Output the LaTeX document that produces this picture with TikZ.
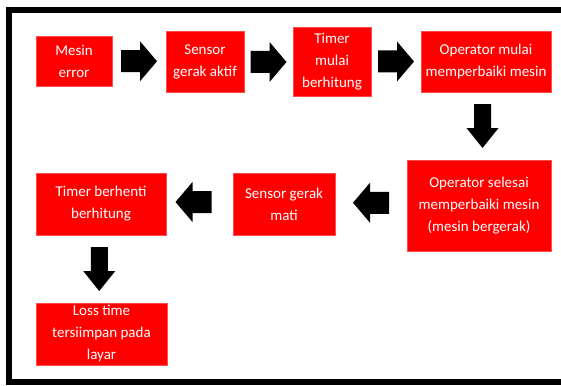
\documentclass[tikz,border=0pt]{standalone}
\usepackage{fontspec}
\setmainfont{Carlito}
\usetikzlibrary{calc}
\tikzset{
  stepbox/.style={fill=red, draw=red!70!white, line width=0.6pt, text=white, align=center,
    inner sep=0pt, font=\fontsize{15}{22}\selectfont},
}
% horizontal block arrow pointing right, centred at #1, rotated by #2
\newcommand\hblock[2]{%
  \fill[black, shift={#1}, rotate=#2] (-18,-11) -- (1,-11) -- (1,-20) -- (18,0) -- (1,20) -- (1,11) -- (-18,11) -- cycle;}
% vertical block arrow pointing down (y axis points down), centred at #1
\newcommand\vblock[1]{%
  \fill[black, shift={#1}] (-8.5,-22) -- (8.5,-22) -- (8.5,2) -- (16,2) -- (0,22) -- (-16,2) -- (-8.5,2) -- cycle;}
\begin{document}
\begin{tikzpicture}[x=1pt,y=-1pt]
\useasboundingbox (0,0) rectangle (561,385);
% frame
\draw[line width=6pt] (575,10) -- (8.5,10) -- (8.5,382) -- (575,382);
% boxes
\node[stepbox, minimum width=76pt, minimum height=50pt] (me) at (74,61) {Mesin\\error};
\node[stepbox, minimum width=78pt, minimum height=61pt] (sa) at (205,61.5) {Sensor\\gerak aktif};
\node[stepbox, minimum width=78pt, minimum height=69pt] (tm) at (332,61.5) {Timer\\mulai\\berhitung};
\node[stepbox, minimum width=130pt, minimum height=61pt] (om) at (486,61.5) {Operator mulai\\memperbaiki mesin};
\node[stepbox, minimum width=144pt, minimum height=91pt] (os) at (479,205.5) {Operator selesai\\memperbaiki mesin\\(mesin bergerak)};
\node[stepbox, minimum width=102pt, minimum height=62pt] (sm) at (284,204) {Sensor gerak\\mati};
\node[stepbox, minimum width=130pt, minimum height=62pt] (tb) at (101,204) {Timer berhenti\\berhitung};
\node[stepbox, minimum width=131pt, minimum height=62pt] (lt) at (101.5,334) {Loss time\\tersiimpan pada\\layar};
% block arrows
\hblock{($(me.east)!0.5!(sa.west)$)}{0}
\hblock{($(sa.east)!0.5!(tm.west)+(0,0.5)$)}{0}
\hblock{($(tm.east)!0.5!(om.west)$)}{0}
\vblock{($(om.south)!0.5!(os.north)$)}
\hblock{($(os.west)!0.5!(sm.east)+(0,-2)$)}{180}
\hblock{($(sm.west)!0.5!(tb.east)+(-6,-2)$)}{180}
\vblock{($(tb.south)!0.5!(lt.north)+(-2,0)$)}
\end{tikzpicture}
\end{document}
